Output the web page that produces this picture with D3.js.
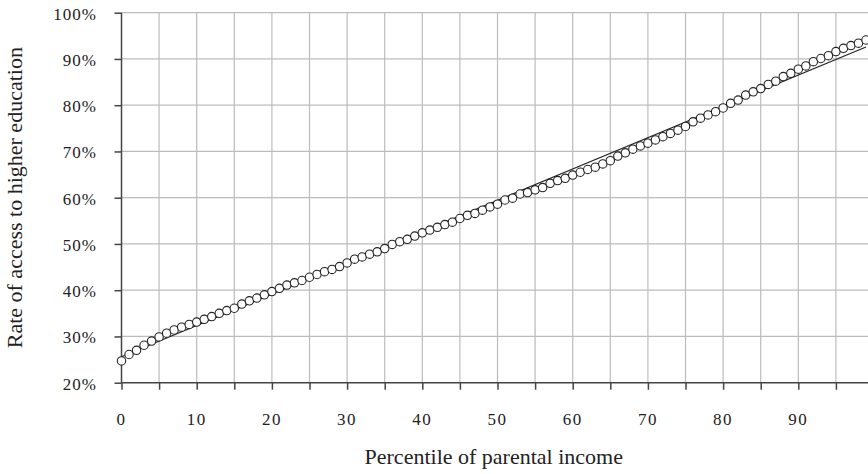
<!DOCTYPE html>
<html>
<head>
<meta charset="utf-8">
<script src="https://cdn.jsdelivr.net/npm/d3@7"></script>
<style>
  body { margin: 0; background: #fff; }
  text { font-family: "Liberation Serif", "DejaVu Serif", serif; fill: #222; }
</style>
</head>
<body>
<div id="chart"></div>
<script>
// percentile of parental income (x) and access rate in % (y)
var percentile = [0,1,2,3,4,5,6,7,8,9,10,11,12,13,14,15,16,17,18,19,
    20,21,22,23,24,25,26,27,28,29,30,31,32,33,34,35,36,37,38,39,
    40,41,42,43,44,45,46,47,48,49,50,51,52,53,54,55,56,57,58,59,
    60,61,62,63,64,65,66,67,68,69,70,71,72,73,74,75,76,77,78,79,
    80,81,82,83,84,85,86,87,88,89,90,91,92,93,94,95,96,97,98,99];
var accessRate = [24.7,26.1,27.0,28.1,29.0,29.9,30.7,31.4,32.0,32.6,
    33.1,33.7,34.3,35.0,35.6,36.1,37.0,37.7,38.3,39.0,
    39.7,40.4,41.1,41.6,42.1,42.8,43.4,44.0,44.5,45.1,
    45.9,46.7,47.2,47.8,48.3,49.0,49.9,50.5,51.0,51.7,
    52.4,53.0,53.6,54.2,54.7,55.5,56.2,56.6,57.3,58.0,
    58.6,59.5,59.9,60.8,61.1,61.7,62.2,63.1,63.7,64.2,
    64.9,65.5,66.1,66.6,67.3,68.0,69.0,69.7,70.5,71.2,
    71.8,72.5,73.2,73.9,74.6,75.4,76.4,77.2,77.9,78.6,
    79.4,80.4,81.1,82.2,82.9,83.6,84.5,85.2,86.2,86.9,
    87.8,88.5,89.4,90.1,90.7,91.6,92.3,92.9,93.4,94.1];
// fitted straight line, end points
var fitX = [0, 99];
var fitY = [25.6, 92.6];

var xTicks = [0,5,10,15,20,25,30,35,40,45,50,55,60,65,70,75,80,85,90,95];
var yTicks = [20,30,40,50,60,70,80,90,100];

var Width = 868, Height = 474;
var Left = 121.5, Right = 866, Top = 12.7, Bottom = 382.7;

var x = d3.scaleLinear().domain([0, 99]).range([Left, Right]);
var y = d3.scaleLinear().domain([20, 100]).range([Bottom, Top]);

var svg = d3.select("#chart").append("svg")
    .attr("width", Width)
    .attr("height", Height);

    //grid
svg.append("g").selectAll("line")
    .data(xTicks.filter(function(d){ return d > 0; }))
    .enter().append("line")
    .attr("x1", function(d){ return x(d); })
    .attr("x2", function(d){ return x(d); })
    .attr("y1", Top)
    .attr("y2", Bottom)
    .style("stroke", "#bcbcbc")
    .style("stroke-width", 1.2);

svg.append("g").selectAll("line")
    .data(yTicks.filter(function(d){ return d > 20; }))
    .enter().append("line")
    .attr("x1", Left)
    .attr("x2", Width)
    .attr("y1", function(d){ return y(d); })
    .attr("y2", function(d){ return y(d); })
    .style("stroke", "#bcbcbc")
    .style("stroke-width", 1.2);

    //axes
var xAxis = svg.append("g")
    .attr("transform", "translate(0," + Bottom + ")")
    .call(d3.axisBottom(x).tickValues(xTicks).tickSize(7).tickFormat(""));
xAxis.select(".domain").remove();
xAxis.append("line").attr("x1", Left).attr("x2", Width).attr("y1", 0).attr("y2", 0);
xAxis.selectAll("line").style("stroke", "#444").style("stroke-width", 1.5);

var yAxis = svg.append("g")
    .attr("transform", "translate(" + Left + ",0)")
    .call(d3.axisLeft(y).tickValues(yTicks).tickSize(7).tickFormat(""));
yAxis.select(".domain").remove();
yAxis.append("line").attr("x1", 0).attr("x2", 0).attr("y1", Top).attr("y2", Bottom);
yAxis.selectAll("line").style("stroke", "#444").style("stroke-width", 1.5);

    //tick labels
svg.append("g").selectAll("text")
    .data(xTicks.filter(function(d){ return d % 10 == 0; }))
    .enter().append("text")
    .attr("x", function(d){ return x(d); })
    .attr("y", 425)
    .attr("text-anchor", "middle")
    .style("font-size", "17px")
    .style("letter-spacing", "1.5px")
    .text(function(d){ return d; });

svg.append("g").selectAll("text")
    .data(yTicks)
    .enter().append("text")
    .attr("x", 97)
    .attr("y", function(d){ return y(d) + 7; })
    .attr("text-anchor", "end")
    .style("font-size", "17px")
    .style("letter-spacing", "1px")
    .text(function(d){ return d + "%"; });

    //axis titles
svg.append("text")
    .attr("x", (Left + Right) / 2)
    .attr("y", 464)
    .attr("text-anchor", "middle")
    .style("font-size", "22px")
    .text("Percentile of parental income");

svg.append("text")
    .attr("transform", "translate(22," + ((Top + Bottom) / 2) + ") rotate(-90)")
    .attr("text-anchor", "middle")
    .style("font-size", "22px")
    .text("Rate of access to higher education");

    //fit line
svg.append("line")
    .attr("x1", x(fitX[0]))
    .attr("y1", y(fitY[0]))
    .attr("x2", x(fitX[1]))
    .attr("y2", y(fitY[1]))
    .style("stroke", "#222")
    .style("stroke-width", 1.1);

    //points
svg.append("g").selectAll("circle")
    .data(accessRate)
    .enter().append("circle")
    .attr("cx", function(d, i){ return x(percentile[i]); })
    .attr("cy", function(d){ return y(d); })
    .attr("r", 4.2)
    .style("fill", "#fff")
    .style("stroke", "#222")
    .style("stroke-width", 1.1);
</script>
</body>
</html>
